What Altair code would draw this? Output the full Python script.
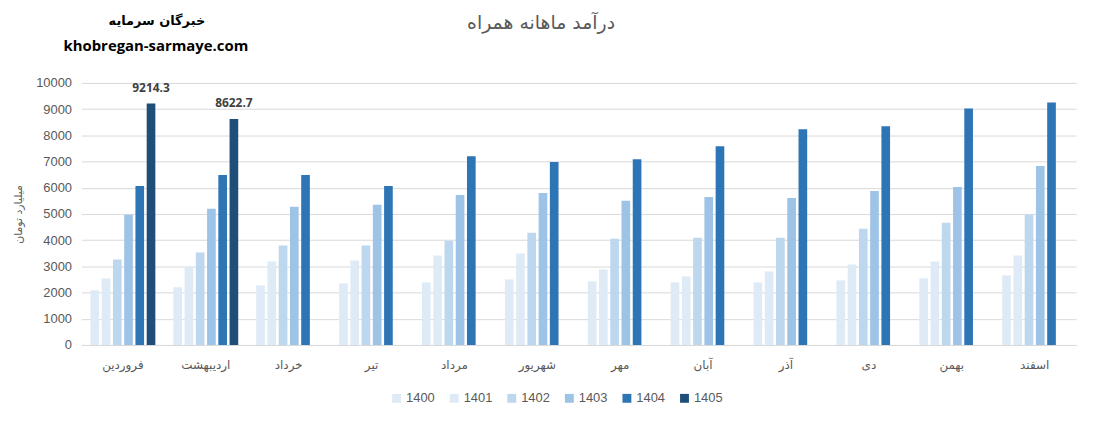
import altair as alt
import pandas as pd

months = ["فروردین", "اردیبهشت", "خرداد", "تیر", "مرداد", "شهریور",
          "مهر", "آبان", "آذر", "دی", "بهمن", "اسفند"]
years = ["1400", "1401", "1402", "1403", "1404", "1405"]

v1400 = [2086, 2200, 2276, 2351, 2389, 2503, 2427, 2389, 2389, 2465, 2541, 2655]
v1401 = [2541, 2984, 3186, 3224, 3413, 3489, 2882, 2617, 2807, 3072, 3186, 3413]
v1402 = [3262, 3527, 3793, 3793, 3982, 4286, 4058, 4096, 4096, 4437, 4665, 4968]
v1403 = [4968, 5196, 5272, 5348, 5727, 5803, 5499, 5651, 5613, 5879, 6030, 6827]
v1404 = [6068, 6485, 6485, 6068, 7206, 6979, 7092, 7585, 8230, 8344, 9027, 9254]
v1405 = [9214.3, 8622.7, None, None, None, None, None, None, None, None, None, None]
y_ticks = [0, 1000, 2000, 3000, 4000, 5000, 6000, 7000, 8000, 9000, 10000]

colors = ["#DEEBF7", "#DEEBF7", "#BDD7EE", "#9DC3E6", "#2E75B6", "#1F4E79"]

title_text = "درآمد ماهانه همراه"
brand_fa = "خبرگان سرمایه"
brand_en = "khobregan-sarmaye.com"
y_title = "میلیارد تومان"

series = [v1400, v1401, v1402, v1403, v1404, v1405]
rows = []
for y, vals in zip(years, series):
    for m, v in zip(months, vals):
        if v is not None:
            rows.append({"month": m, "year": y, "value": v})
df = pd.DataFrame(rows)
df_lab = df[df["year"] == "1405"].copy()
df_lab["label"] = df_lab["value"].map(lambda v: f"{v:.1f}")

x_scale = alt.Scale(paddingInner=0, paddingOuter=0)
xo_scale = alt.Scale(domain=years, paddingInner=0.23, paddingOuter=0.8)
y_scale = alt.Scale(domain=[0, 10000], nice=False)

bars = alt.Chart(df).mark_bar().encode(
    x=alt.X("month:N", sort=months, scale=x_scale,
            axis=alt.Axis(title=None, labelAngle=0, ticks=False,
                          domainColor="#D9D9D9", domainWidth=1,
                          labelFont="DejaVu Sans", labelFontSize=12,
                          labelColor="#595959", labelPadding=15)),
    xOffset=alt.XOffset("year:N", sort=years, scale=xo_scale),
    y=alt.Y("value:Q", scale=y_scale,
            axis=alt.Axis(title=y_title, values=y_ticks, tickCount=20,
                          format="d", labelOverlap=False,
                          domain=False, ticks=False, grid=True,
                          gridColor="#D9D9D9", gridWidth=1,
                          labelFont="Liberation Sans", labelFontSize=13,
                          labelColor="#595959", labelPadding=10,
                          titleFont="DejaVu Sans", titleFontSize=11,
                          titleFontWeight="normal", titleColor="#595959",
                          titlePadding=12)),
    color=alt.Color("year:N", sort=years,
                    scale=alt.Scale(domain=years, range=colors),
                    legend=alt.Legend(title=None, orient="none", direction="horizontal",
                                      legendX=311, legendY=311,
                                      symbolType="square", symbolSize=80,
                                      symbolStrokeWidth=0,
                                      labelFont="Liberation Sans", labelFontSize=13,
                                      labelColor="#595959", columnPadding=13,
                                      labelOffset=3)),
)

labels = alt.Chart(df_lab).mark_text(
    baseline="bottom", dy=-9, font="Open Sans", fontSize=12,
    fontWeight="bold", color="#404040"
).encode(
    x=alt.X("month:N", sort=months, scale=x_scale, axis=None),
    xOffset=alt.XOffset("year:N", sort=years, scale=xo_scale),
    y=alt.Y("value:Q", scale=y_scale, axis=None),
    text="label:N",
)

one = pd.DataFrame({"k": [0]})
title = alt.Chart(one).mark_text(
    font="DejaVu Sans", fontSize=19, color="#595959", baseline="middle", align="center"
).encode(x=alt.value(463), y=alt.value(-60), text=alt.value(title_text))

b1 = alt.Chart(one).mark_text(
    font="DejaVu Sans", fontSize=13, fontWeight="bold", color="#000000",
    baseline="middle", align="center"
).encode(x=alt.value(76), y=alt.value(-62), text=alt.value(brand_fa))

b2 = alt.Chart(one).mark_text(
    font="Open Sans", fontSize=15, fontWeight="bold", color="#000000",
    baseline="middle", align="center"
).encode(x=alt.value(75), y=alt.value(-37), text=alt.value(brand_en))

chart = alt.layer(bars, labels, title, b1, b2).resolve_axis(
    x="independent", y="independent"
).properties(
    width=1002, height=264,
    padding={"left": 74, "top": 74, "right": 12, "bottom": 60},
    autosize=alt.AutoSizeParams(type="none"),
).configure_view(stroke=None)

chart.save("out.html", embed_options={"renderer": "svg", "actions": False})
